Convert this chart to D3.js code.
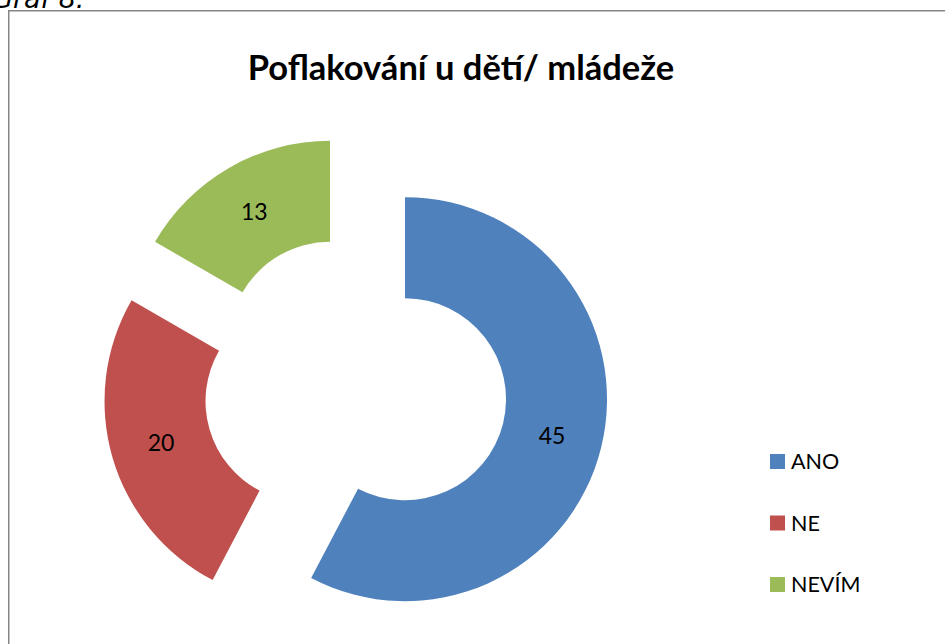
<!DOCTYPE html>
<html>
<head>
<meta charset="utf-8">
<script src="https://cdn.jsdelivr.net/npm/d3@7"></script>
<style>
  html, body { margin: 0; padding: 0; background: #fff; overflow: hidden; }
  svg { display: block; font-family: Lato, "Open Sans", sans-serif; }
</style>
</head>
<body>
<div id="chart"></div>
<script>
// Data.
var categories = ["ANO", "NE", "NEVÍM"],
    values = [45, 20, 13],
    colors = ["#4F81BD", "#C0504D", "#9BBB59"];

var title = "Poflakování u dětí/ mládeže",
    caption = "Graf 8.";

// Layout.
var width = 945,
    height = 644,
    cx = 355.5,
    cy = 387,
    outerRadius = 202,
    innerRadius = 101,
    explode = 51;

var svg = d3.select("#chart").append("svg")
  .attr("width", width)
  .attr("height", height);

// Caption above the chart frame (cut by the page edge, as in the source).
svg.append("text")
  .attr("x", -8)
  .attr("y", 8)
  .style("font-family", "'DejaVu Sans', sans-serif")
  .style("font-style", "italic")
  .style("font-size", "27px")
  .style("fill", "#000")
  .text(caption);

// Chart frame.
svg.append("rect")
  .attr("x", 8.75)
  .attr("y", 10.75)
  .attr("width", width + 20)
  .attr("height", height + 20)
  .style("fill", "none")
  .style("stroke", "#868686")
  .style("stroke-width", 1.5);

// Title.
svg.append("text")
  .attr("x", 461)
  .attr("y", 80)
  .attr("text-anchor", "middle")
  .style("font-weight", "bold")
  .style("font-size", "34.5px")
  .text(title);

// Pie layout, starting at 12 o'clock and running clockwise like Excel.
var pie = d3.pie().sort(null).value(function (d) { return d; }),
    arcs = pie(values),
    arc = d3.arc().innerRadius(innerRadius).outerRadius(outerRadius),
    midRadius = (innerRadius + outerRadius) / 2,
    labelArc = d3.arc().innerRadius(midRadius).outerRadius(midRadius);

// Each slice is pushed outward along its bisector.
function offset(d) {
  var a = (d.startAngle + d.endAngle) / 2;
  return [cx + Math.sin(a) * explode, cy - Math.cos(a) * explode];
}

var slices = svg.append("g").selectAll("g")
  .data(arcs)
  .enter().append("g")
    .attr("transform", function (d) { return "translate(" + offset(d) + ")"; });

slices.append("path")
  .attr("d", arc)
  .style("fill", function (d, i) { return colors[i]; });

slices.append("text")
  .attr("transform", function (d) { return "translate(" + labelArc.centroid(d) + ")"; })
  .attr("text-anchor", "middle")
  .attr("dy", "0.35em")
  .style("font-size", "23px")
  .text(function (d) { return d.value; });

// Legend.
var legend = svg.append("g").selectAll("g")
  .data(categories)
  .enter().append("g")
    .attr("transform", function (d, i) { return "translate(770," + (454 + i * 61.5) + ")"; });

legend.append("rect")
  .attr("width", 15)
  .attr("height", 15)
  .style("fill", function (d, i) { return colors[i]; });

legend.append("text")
  .attr("x", 21)
  .attr("y", 7.5)
  .attr("dy", "0.36em")
  .style("font-size", "21.5px")
  .text(function (d) { return d; });
</script>
</body>
</html>
